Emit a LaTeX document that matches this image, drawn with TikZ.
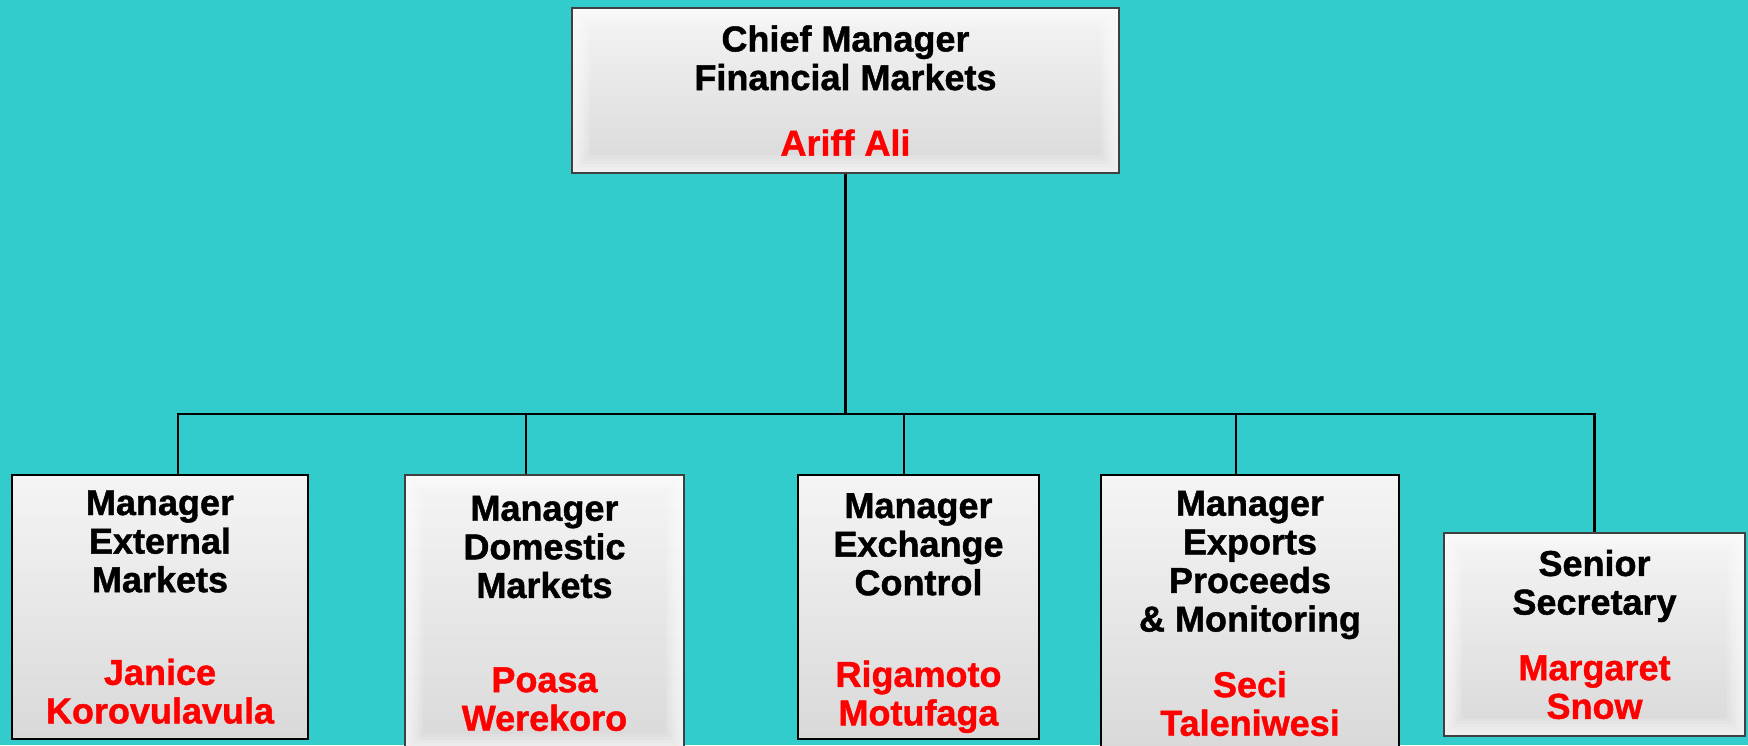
\documentclass[tikz,border=0pt]{standalone}
\usepackage{fontspec}
\setmainfont{Liberation Sans}[BoldFeatures={FakeBold=1.2}]
\usetikzlibrary{positioning}
\definecolor{bgcyan}{HTML}{33CCCC}
\definecolor{staffred}{HTML}{FF0000}
\newcommand{\staff}[1]{\textcolor{staffred}{#1}}
\tikzset{
	post/.style={draw=black, line width=1.2pt, top color=gray!8, bottom color=gray!30, align=center, inner sep=0pt, font=\fontsize{18}{19.3}\selectfont\bfseries}, % plain shaded box
	bevel/.style={post, draw=black!75, path picture={\foreach \i in {1,...,6} \draw[white, opacity=0.16, line width=\i*3pt] (path picture bounding box.north west) rectangle (path picture bounding box.south east);}}, % box with a raised frame
	link/.style={line width=1.2pt}, % the tree lines
}

\begin{document}
\begin{tikzpicture}[x=0.5pt, y=-0.5pt]
	\useasboundingbox (0,0) rectangle (1748,745);
	\fill[bgcyan] (0,0) rectangle (1748,745);

	\node[bevel, minimum width=273.5pt, minimum height=82.5pt] (chief) at (845.5,90.5) {Chief Manager\\Financial Markets\\[13.5pt]\staff{Ariff Ali}};

	\node[post, minimum width=148pt, minimum height=132pt] (ext) at (160,607) {Manager\\External\\Markets\\[27pt]\staff{Janice}\\\staff{Korovulavula}};
	\node[bevel, minimum width=139.5pt, minimum height=138.5pt] (dom) at (544.5,613.5) {Manager\\Domestic\\Markets\\[27.8pt]\staff{Poasa}\\\staff{Werekoro}};
	\node[post, minimum width=120.5pt, minimum height=132pt] (exc) at (918.5,607) {\rule{0pt}{18.5pt}Manager\\Exchange\\Control\\[26.5pt]\staff{Rigamoto}\\\staff{Motufaga}};
	\node[post, minimum width=149pt, minimum height=138.5pt] (exp) at (1250,613.5) {Manager\\Exports\\Proceeds\\\&\ Monitoring\\[13.5pt]\staff{Seci}\\\staff{Taleniwesi}};
	\node[bevel, minimum width=150.5pt, minimum height=101.5pt] (sec) at (1594.5,634.5) {Senior\\Secretary\\[13.5pt]\staff{Margaret}\\\staff{Snow}};

	\coordinate (bar) at (844,414);
	\draw[link] (chief.south) -- (chief.south |- bar);
	\foreach \who/\dx in {ext/9pt, dom/-9.25pt, exc/-7.25pt, exp/-7pt, sec/0pt}
		\draw[link] (chief.south |- bar) -| ([xshift=\dx]\who.north);
\end{tikzpicture}
\end{document}
